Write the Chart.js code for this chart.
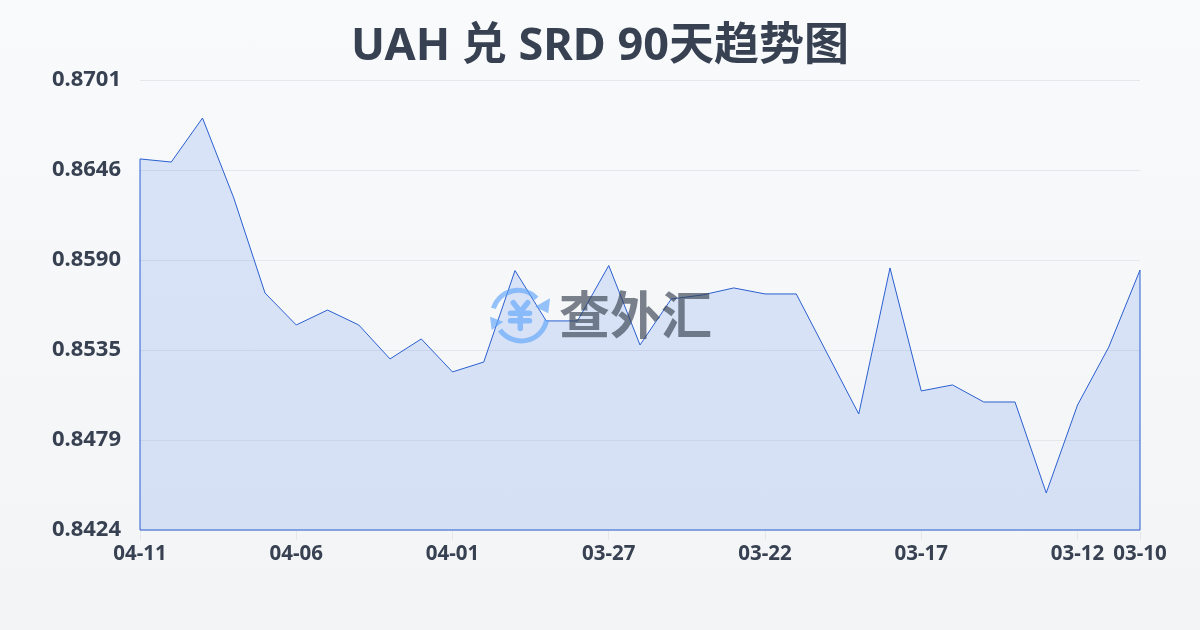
<!DOCTYPE html>
<html>
<head>
<meta charset="utf-8">
<title>UAH 兑 SRD 90天趋势图</title>
<script src="https://cdn.jsdelivr.net/npm/chart.js@4"></script>
<style>
    html, body { margin: 0; padding: 0; }
    body { width: 1200px; height: 630px; overflow: hidden; background: linear-gradient(180deg, #f8fafc 0%, #f3f4f6 100%); position: relative; }
    canvas { position: absolute; left: 0; top: 0; }
    #marca { position: absolute; left: 488px; top: 282px; width: 240px; height: 66px; opacity: 0.65; }
    #marca span { position: absolute; left: 71px; top: -3px; font: 700 51px "Noto Sans CJK SC"; line-height: 66px; color: #374151; white-space: nowrap; }
    #marca svg { position: absolute; left: 0; top: 0; }
</style>
</head>
<body>
<canvas id="grafica" width="1200" height="630"></canvas>
<div id="marca">
    <svg width="66" height="66" viewBox="0 0 66 66" fill="none" stroke="#60a5fa" stroke-width="5">
        <path d="M5.3 26.3 A26 26 0 0 1 48.7 16.3" />
        <path d="M58.7 38 A26 26 0 0 1 12 48" />
        <path d="M62 16.3 L60.3 31.3 L47 24.7 Z" fill="#60a5fa" stroke="none" />
        <path d="M2 34.7 L3.7 48 L15.3 39.7 Z" fill="#60a5fa" stroke="none" />
        <path d="M25.3 20.7 L32.3 29.7 L39.7 20.7 M22.5 31.3 H41.5 M22.5 38.7 H41.5 M32.3 30 V46.5" stroke-width="5.5" stroke-linecap="round" stroke-linejoin="round" />
    </svg>
    <span>查外汇</span>
</div>
<script>
    // Datos
    const fechas = ['04-11', '04-10', '04-09', '04-08', '04-07', '04-06', '04-05', '04-04', '04-03', '04-02', '04-01',
        '03-31', '03-30', '03-29', '03-28', '03-27', '03-26', '03-25', '03-24', '03-23', '03-22',
        '03-21', '03-20', '03-19', '03-18', '03-17', '03-16', '03-15', '03-14', '03-13', '03-12', '03-11', '03-10'];
    const tasas = [0.86524, 0.86505, 0.86776, 0.86284, 0.85699, 0.85502, 0.85594, 0.85502, 0.85293, 0.85416, 0.85213,
        0.85274, 0.85837, 0.85527, 0.85527, 0.85868, 0.85379, 0.85662, 0.85687, 0.8573, 0.85693,
        0.85693, 0.85323, 0.84954, 0.85853, 0.85096, 0.85133, 0.85028, 0.85028, 0.84468, 0.85009, 0.85366, 0.8584];
    const fechasVisibles = ['04-11', '04-06', '04-01', '03-27', '03-22', '03-17', '03-12', '03-10'];
    const ticksY = [0.8424, 0.84794, 0.85348, 0.85902, 0.86456, 0.8701];

    const colorTexto = '#374151';
    const colorLinea = '#2a5fd0';

    // Cierra el contorno del area: lados izquierdo, derecho y base
    const contorno = {
        id: 'contorno',
        afterDatasetsDraw(chart) {
            const puntos = chart.getDatasetMeta(0).data;
            const base = chart.scales.y.bottom;
            const primero = puntos[0];
            const ultimo = puntos[puntos.length - 1];
            const c = chart.ctx;
            c.save();
            c.strokeStyle = colorLinea;
            c.lineWidth = 1;
            c.beginPath();
            c.moveTo(primero.x, primero.y);
            c.lineTo(primero.x, base);
            c.lineTo(ultimo.x, base);
            c.lineTo(ultimo.x, ultimo.y);
            c.stroke();
            c.restore();
        }
    };

    new Chart(document.getElementById('grafica').getContext('2d'), {
        type: 'line',
        data: {
            labels: fechas,
            datasets: [{
                data: tasas,
                borderColor: colorLinea,
                borderWidth: 1,
                backgroundColor: 'rgba(37, 99, 235, 0.14)',
                fill: 'start',
                pointRadius: 0,
                tension: 0
            }]
        },
        options: {
            responsive: false,
            animation: false,
            plugins: {
                legend: { display: false },
                tooltip: { enabled: false },
                title: {
                    display: true,
                    text: 'UAH 兑 SRD 90天趋势图',
                    color: colorTexto,
                    font: { family: '"Noto Sans", "Noto Sans CJK SC"', size: 45, weight: '700', lineHeight: 1 },
                    padding: { top: 25, bottom: 10 }
                }
            },
            scales: {
                x: {
                    grid: { drawOnChartArea: false, drawTicks: true, tickLength: 10, tickColor: '#e5e7eb' },
                    border: { display: false },
                    afterBuildTicks(eje) {
                        eje.ticks = eje.ticks.filter(t => fechasVisibles.includes(fechas[t.value]));
                    },
                    ticks: {
                        autoSkip: false,
                        maxRotation: 0,
                        padding: 2,
                        color: colorTexto,
                        font: { family: '"Noto Sans"', size: 20.5, weight: '700' }
                    },
                    afterFit(eje) { eje.height = 100; }
                },
                y: {
                    min: ticksY[0],
                    max: ticksY[ticksY.length - 1],
                    grid: { color: '#e5e7eb', lineWidth: 1, drawTicks: false },
                    border: { display: false },
                    afterBuildTicks(eje) {
                        eje.ticks = ticksY.map(v => ({ value: v }));
                    },
                    ticks: {
                        padding: 19,
                        color: colorTexto,
                        font: { family: '"Noto Sans"', size: 22, weight: '700' },
                        callback: v => v.toFixed(4)
                    },
                    afterFit(eje) { eje.width = 140; }
                },
                // Eje vacio: solo reserva el margen derecho para que el titulo quede centrado
                margenDerecho: {
                    type: 'linear',
                    position: 'right',
                    grid: { display: false },
                    border: { display: false },
                    ticks: { display: false },
                    afterFit(eje) { eje.width = 60; }
                }
            }
        },
        plugins: [contorno]
    });
</script>
</body>
</html>
